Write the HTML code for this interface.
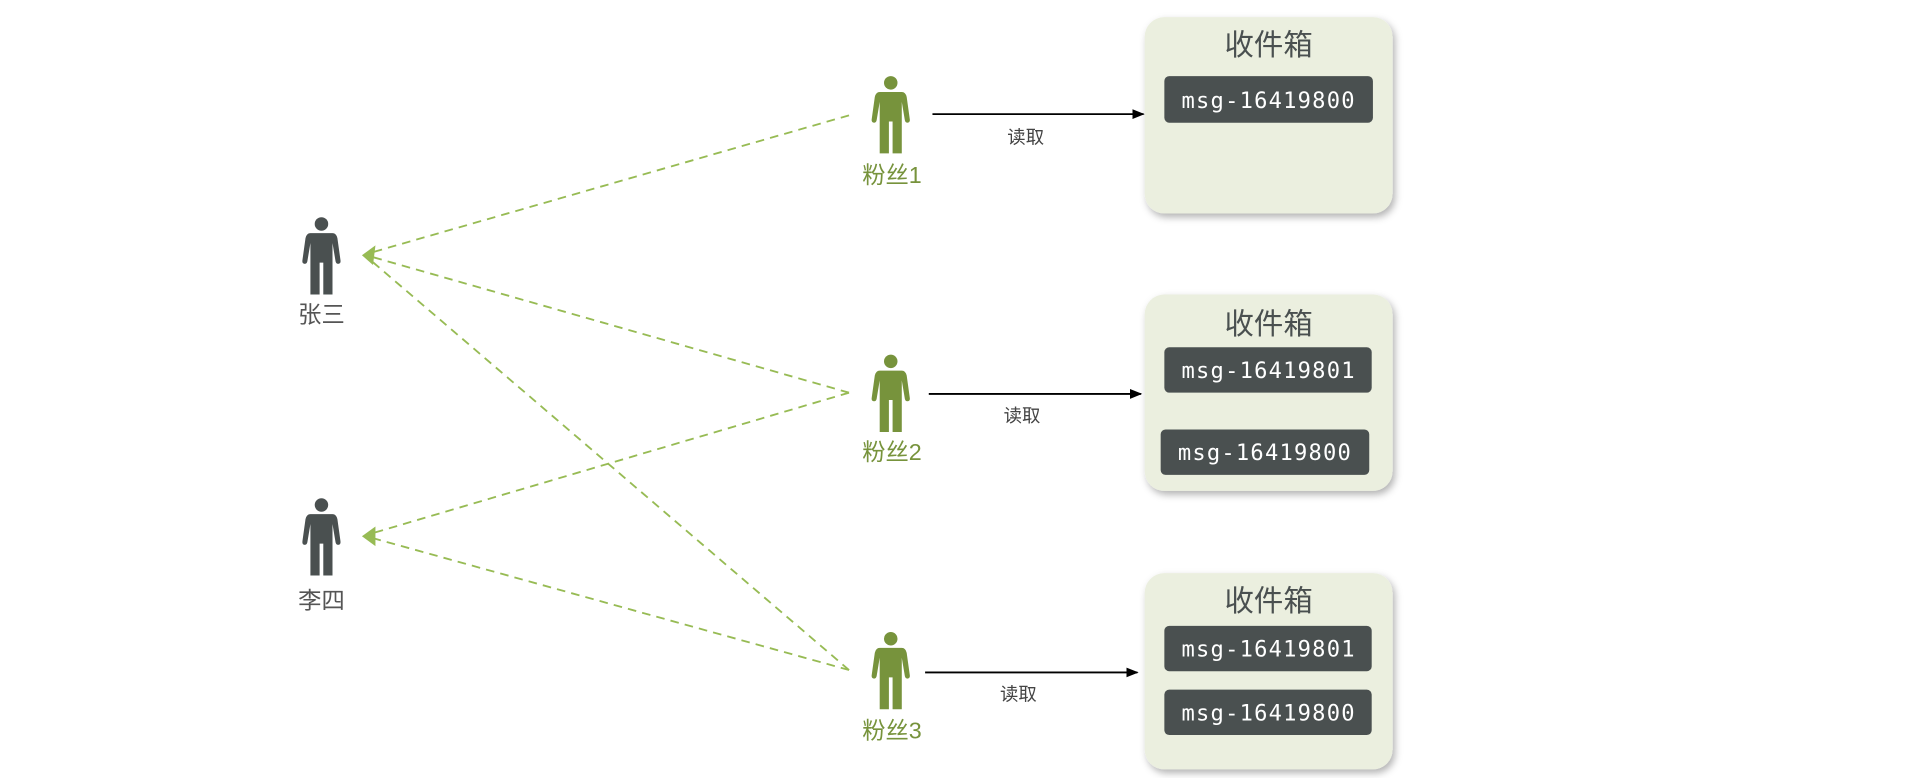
<!DOCTYPE html>
<html><head><meta charset="utf-8"><style>
html,body{margin:0;padding:0;background:#fff;width:1914px;height:778px;overflow:hidden}
svg{display:block}
text{font-family:"Liberation Sans","Noto Sans CJK SC",sans-serif}
.mono{font-family:"DejaVu Sans Mono","Liberation Mono",monospace;fill:#fff;font-size:18px;letter-spacing:1px}
</style></head><body>
<svg width="1914" height="778" viewBox="0 0 1560 634" preserveAspectRatio="none" xmlns="http://www.w3.org/2000/svg">
<defs>
<g id="p">
<circle cx="0" cy="5.5" r="5.5"/>
<path d="M-9,13 H9 Q12,13 13,17 L15.5,35 Q16,38 13.5,38 Q12,38 11.5,36 L9,21 V63 H1.5 V37 H-1.5 V63 H-9 V21 L-11.5,36 Q-12,38 -13.5,38 Q-16,38 -15.5,35 L-13,17 Q-12,13 -9,13Z"/>
</g>
<filter id="sh" x="-10%" y="-10%" width="125%" height="125%"><feDropShadow dx="2" dy="3" stdDeviation="3" flood-color="#000" flood-opacity="0.3"/></filter>
<marker id="ab" markerWidth="10" markerHeight="8" refX="9" refY="4" orient="auto" markerUnits="userSpaceOnUse"><path d="M0,0 L10,4 L0,8Z" fill="#000"/></marker>
</defs>

<g stroke="#97bb54" stroke-width="1.5" stroke-dasharray="7,5" fill="none">
<line x1="692" y1="94" x2="302" y2="206"/>
<line x1="692" y1="320" x2="302" y2="209"/>
<line x1="692" y1="546" x2="302" y2="212"/>
<line x1="692" y1="320" x2="302" y2="435"/>
<line x1="692" y1="546" x2="302" y2="438"/>
</g>
<path d="M295,208 L306,200 L304,216Z" fill="#97bb54"/>
<path d="M295,437 L306,429 L306,445Z" fill="#97bb54"/>

<use href="#p" x="262" y="177" fill="#4a5050"/>
<text x="262" y="263" text-anchor="middle" font-size="19" fill="#555">张三</text>
<use href="#p" x="262" y="406" fill="#4a5050"/>
<text x="262" y="496" text-anchor="middle" font-size="19" fill="#555">李四</text>

<g fill="#77933c">
<use href="#p" x="726" y="62"/>
<use href="#p" x="726" y="289"/>
<use href="#p" x="726" y="515"/>
</g>
<g font-size="19" fill="#77933c" text-anchor="middle">
<text x="727" y="149">粉丝1</text>
<text x="727" y="375">粉丝2</text>
<text x="727" y="602">粉丝3</text>
</g>

<g stroke="#000" stroke-width="1.5" marker-end="url(#ab)">
<line x1="760" y1="93" x2="932" y2="93"/>
<line x1="757" y1="321" x2="930" y2="321"/>
<line x1="754" y1="548" x2="927" y2="548"/>
</g>
<g font-size="15" fill="#444" text-anchor="middle">
<text x="836" y="117">读取</text>
<text x="833" y="344">读取</text>
<text x="830" y="571">读取</text>
</g>

<g fill="#ebefdf" filter="url(#sh)">
<rect x="933" y="14" width="202" height="160" rx="16"/>
<rect x="933" y="240" width="202" height="160" rx="16"/>
<rect x="933" y="467" width="202" height="160" rx="16"/>
</g>
<g font-size="24" fill="#4a5050" text-anchor="middle">
<text x="1034" y="45">收件箱</text>
<text x="1034" y="272">收件箱</text>
<text x="1034" y="498">收件箱</text>
</g>
<g fill="#4a5050">
<rect x="949" y="62" width="170" height="38" rx="4"/>
<rect x="949" y="283" width="169" height="37" rx="4"/>
<rect x="946" y="350" width="170" height="37" rx="4"/>
<rect x="949" y="510" width="169" height="37" rx="4"/>
<rect x="949" y="562" width="169" height="37" rx="4"/>
</g>
<g text-anchor="middle">
<text class="mono" x="1034" y="88">msg-16419800</text>
<text class="mono" x="1034" y="308">msg-16419801</text>
<text class="mono" x="1031" y="375">msg-16419800</text>
<text class="mono" x="1034" y="535">msg-16419801</text>
<text class="mono" x="1034" y="587">msg-16419800</text>
</g>
</svg>
</body></html>
